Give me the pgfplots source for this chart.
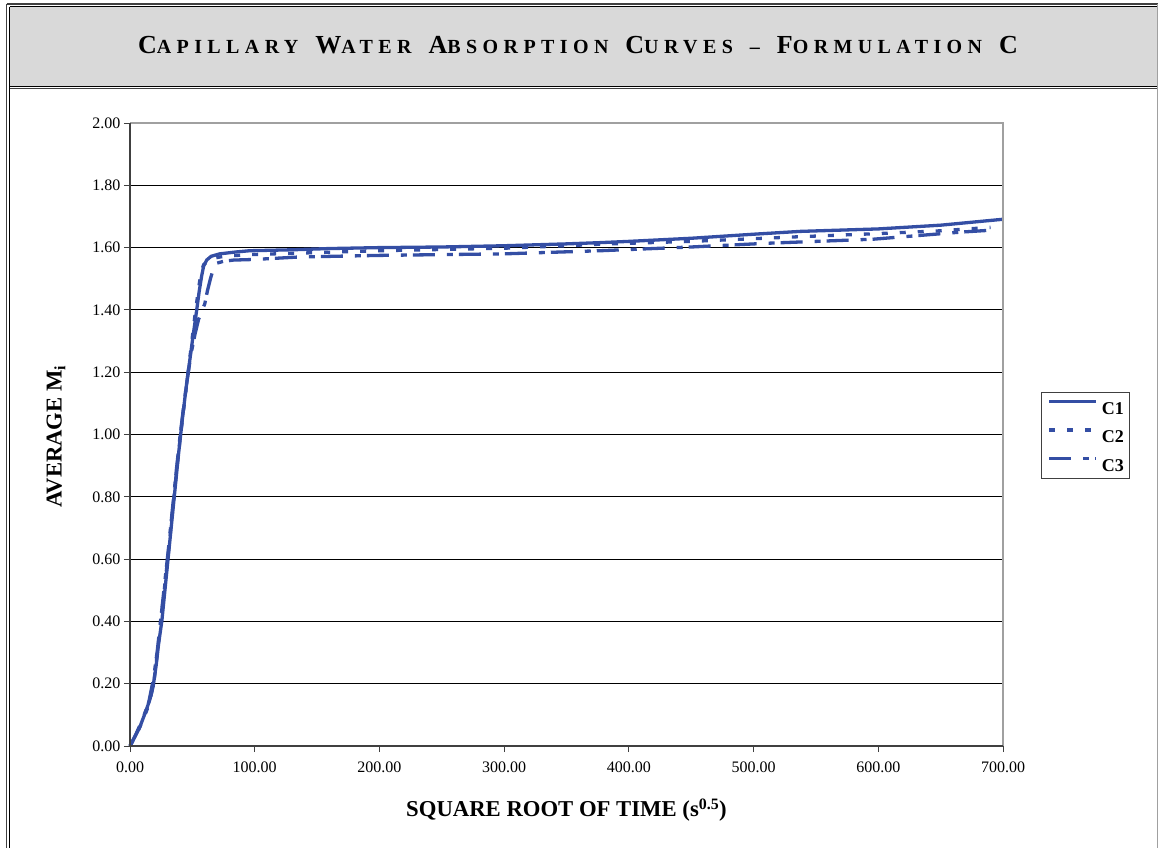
\documentclass[border=0pt]{standalone}
\usepackage{fontspec}
\setmainfont{Liberation Serif}
\usepackage{pgfplots}
\pgfplotsset{compat=1.18}

\definecolor{curve}{RGB}{52,78,164}
\definecolor{headgray}{RGB}{217,217,217}
\definecolor{axisdark}{RGB}{64,64,64}
\definecolor{boxgray}{RGB}{160,160,160}

\newfontfamily\titlefont[LetterSpace=27]{Liberation Serif Bold}
\newcommand\capl[1]{{\fontsize{26}{28}\selectfont #1}}
\newcommand\smll[1]{{\fontsize{20}{22}\selectfont #1}}
\newcommand\wgap{\hspace{17pt}}

\begin{document}
\begin{tikzpicture}
\useasboundingbox (0pt,0pt) rectangle (1158pt,-847pt);

% header band and page frame
\fill[headgray] (10pt,-7pt) rectangle (1157pt,-86pt);
\draw[line width=1.3pt, axisdark] (6.5pt,-4pt) -- (1160pt,-4pt);
\draw[line width=1.3pt, black] (9.7pt,-6.6pt) -- (1160pt,-6.6pt);
\draw[line width=1.3pt, black] (9.7pt,-86.3pt) -- (1160pt,-86.3pt);
\draw[line width=1.3pt, axisdark] (9.7pt,-88.8pt) -- (1160pt,-88.8pt);
\draw[line width=1.3pt, axisdark] (6.5pt,-4pt) -- (6.5pt,-850pt);
\draw[line width=1.3pt, black] (9.7pt,-6.6pt) -- (9.7pt,-850pt);
\draw[line width=1.3pt, boxgray] (1157.3pt,-4pt) -- (1157.3pt,-850pt);

% chart title in spaced small capitals
\node[anchor=base, inner sep=0pt] at (578pt,-53.3pt) {\titlefont
  \capl{C}\smll{APILLARY}\wgap\capl{W}\smll{ATER}\wgap\capl{A}\smll{BSORPTION}\wgap
  \capl{C}\smll{URVES}\wgap\smll{\char"2013}\wgap\capl{F}\smll{ORMULATION}\wgap\capl{C}};

\begin{axis}[
  at={(130pt,-746pt)}, anchor=south west,
  width=873pt, height=623pt, scale only axis,
  xmin=0, xmax=700, ymin=0, ymax=2,
  xtick={0,100,200,300,400,500,600,700},
  ytick={0,0.2,0.4,0.6,0.8,1.0,1.2,1.4,1.6,1.8,2.0},
  tick pos=left, tick align=outside,
  major tick length=6pt,
  tick style={axisdark, line width=1pt},
  axis line style={draw=none},
  ymajorgrids, grid style={black, line width=0.9pt},
  clip=false,
  /pgf/number format/.cd, fixed, fixed zerofill, precision=2, assume math mode=true,
  /pgfplots/.cd,
  tick label style={font=\fontsize{16}{18}\selectfont, black},
  xticklabel style={yshift=-6pt},
  xlabel={SQUARE ROOT OF TIME (s\textsuperscript{0.5})},
  ylabel={AVERAGE M\textsubscript{i}},
  label style={font=\bfseries\fontsize{22.7}{26}\selectfont},
  xlabel style={at={(axis description cs:0.5,-0.1027)}, anchor=center},
  ylabel style={at={(axis description cs:-0.0848,0.4968)}, anchor=center},
  legend style={at={(axis description cs:1.0435,0.5682)}, anchor=north west,
    draw=axisdark, line width=1.2pt, fill=white,
    inner xsep=6pt, inner ysep=7pt,
    font=\bfseries\fontsize{18}{20}\selectfont,
    nodes={inner sep=0pt, text height=13pt, text depth=0pt},
    row sep=14pt, column sep=4pt},
  legend cell align=left,
  legend image code/.code={\draw[#1] (0pt,6.5pt) -- (47pt,6.5pt);},
]

% C1
\addplot[curve, line width=3.3pt] coordinates {
  (0,0) (4,0.03) (8,0.062) (13,0.115) (16,0.15) (18.5,0.19) (21,0.26)
  (23,0.33) (25.5,0.40) (28,0.50) (30.5,0.60) (33,0.70) (36,0.82)
  (39,0.94) (42,1.05) (45,1.15) (47,1.21) (50,1.30) (53.5,1.40)
  (55.5,1.46) (57.5,1.51) (59,1.54) (61.5,1.56) (65,1.572) (72,1.58)
  (85,1.586) (96,1.59) (130,1.593) (160,1.597) (200,1.600) (250,1.602)
  (300,1.606) (350,1.612) (377,1.616) (400,1.620) (450,1.630)
  (500,1.643) (537,1.652) (600,1.660) (650,1.672) (700,1.691)
};
\addlegendentry{C1}

% C2
\addplot[curve, line width=3.3pt, dash pattern=on 6pt off 12pt] coordinates {
  (0,0) (5,0.035) (10,0.08) (15,0.13) (19,0.20) (22,0.30) (25,0.41)
  (28,0.52) (31,0.63) (34,0.75) (37,0.87) (40,0.98) (43,1.08)
  (46,1.18) (49,1.28) (52,1.38) (55,1.47) (57,1.52) (59,1.545)
  (62,1.555) (66,1.565) (75,1.572) (90,1.576) (100,1.578) (150,1.584)
  (200,1.590) (250,1.594) (300,1.598) (350,1.606) (377,1.611)
  (450,1.620) (537,1.635) (600,1.645) (650,1.654) (690,1.665)
};
\addlegendentry{C2}

% C3
\addplot[curve, line width=3.3pt, dash pattern=on 22pt off 12pt on 6pt off 6pt] coordinates {
  (0,0) (5,0.04) (10,0.085) (15,0.14) (19,0.22) (22,0.31) (25,0.42)
  (28,0.53) (31,0.64) (34,0.76) (37,0.88) (40,0.99) (43,1.09)
  (46,1.18) (49,1.26) (52,1.32) (55,1.37) (58,1.40) (60,1.42)
  (62,1.46) (64.5,1.50) (67,1.535) (69.5,1.55) (75,1.556) (83,1.560)
  (100,1.562) (136,1.570) (200,1.575) (300,1.580) (377,1.590)
  (450,1.602) (511,1.614) (596,1.627) (667,1.650) (695,1.657)
};
\addlegendentry{C3}

% plot-area border
\draw[boxgray, line width=1.4pt] (rel axis cs:0,1) -- (rel axis cs:1,1) -- (rel axis cs:1,0);
\draw[axisdark, line width=1.4pt] (rel axis cs:0,1) -- (rel axis cs:0,0) -- (rel axis cs:1,0);
\end{axis}
\end{tikzpicture}
\end{document}
